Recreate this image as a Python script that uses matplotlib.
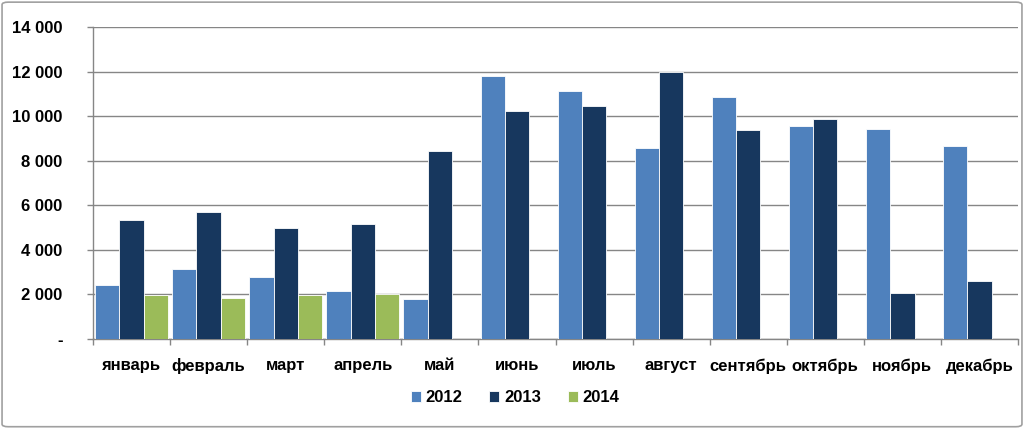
import matplotlib
matplotlib.use("Agg")
import matplotlib.pyplot as plt
import numpy as np
from matplotlib.patches import FancyBboxPatch
from matplotlib.ticker import FuncFormatter, FixedLocator

months = ["январь", "февраль", "март", "апрель", "май", "июнь", "июль",
          "август", "сентябрь", "октябрь", "ноябрь", "декабрь"]
years = ["2012", "2013", "2014"]
v2012 = [2440, 3130, 2770, 2150, 1790, 11780, 11140, 8550, 10840, 9560, 9430, 8640]
v2013 = [5330, 5680, 5000, 5180, 8430, 10230, 10440, 12000, 9380, 9890, 2070, 2600]
v2014 = [1970, 1860, 1960, 2000, np.nan, np.nan, np.nan, np.nan, np.nan, np.nan, np.nan, np.nan]
colors = ["#4F81BD", "#17375E", "#9BBB59"]
yticks = [0, 2000, 4000, 6000, 8000, 10000, 12000, 14000]

plt.rcParams['font.family'] = ['Liberation Sans', 'DejaVu Sans']
FS = 12

fig = plt.figure(figsize=(10.24, 4.28), dpi=100)
ax = fig.add_axes([93/1024, 1 - 339/428, (1018-93)/1024, (339-27)/428])

x = np.arange(len(months))
w = 0.315
series = [v2012, v2013, v2014]
for i, (vals, c, lab) in enumerate(zip(series, colors, years)):
    ax.bar(x + (i - 1) * w, vals, width=w, color=c, edgecolor="white",
           linewidth=0.6, label=lab, zorder=3)

ax.set_xlim(-0.5, len(months) - 0.5)
ax.set_ylim(0, 14000)
ax.set_yticks(yticks)
ax.yaxis.set_major_formatter(FuncFormatter(
    lambda v, p: "-" if v == 0 else f"{int(v):,}".replace(",", " ")))
ax.grid(axis="y", color="#868686", linewidth=1.0, zorder=0)

ax.set_xticks(x)
ax.set_xticklabels(months)
ax.xaxis.set_minor_locator(FixedLocator(np.arange(-0.5, len(months), 1.0)))
ax.tick_params(axis="x", which="major", length=0, pad=14, labelsize=FS)
ax.tick_params(axis="x", which="minor", length=4, color="#868686", width=1)
ax.tick_params(axis="y", length=4, color="#868686", width=1, pad=18, labelsize=FS)
for t in ax.get_xticklabels() + ax.get_yticklabels():
    t.set_fontweight("bold")

for s in ["top", "right"]:
    ax.spines[s].set_visible(False)
for s in ["left", "bottom"]:
    ax.spines[s].set_color("#868686")
    ax.spines[s].set_linewidth(1)

leg = fig.legend(loc="center", bbox_to_anchor=(515/1024, 1 - 398/428), ncol=3,
                 frameon=False, prop={"weight": "bold", "size": FS},
                 handlelength=0.6, handleheight=0.6, handletextpad=0.3,
                 columnspacing=1.6)

border = FancyBboxPatch((0.002, 0.003), 0.996, 0.992, boxstyle="round,pad=0,rounding_size=0.006",
                        transform=fig.transFigure, fill=False, edgecolor="#A0A0A0",
                        linewidth=1.2)
fig.patches.append(border)

fig.savefig("out.png", dpi=100)
